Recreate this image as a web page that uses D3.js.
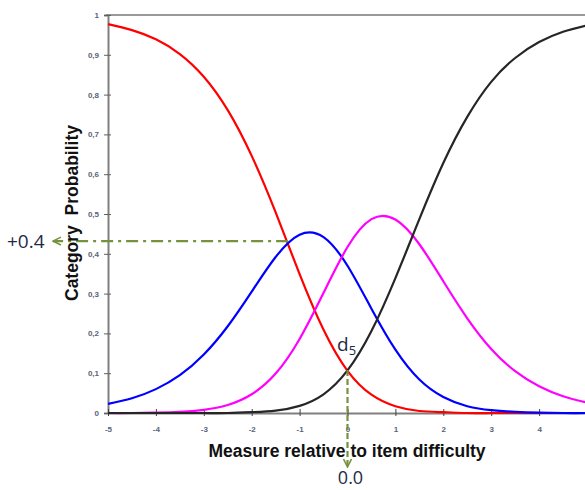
<!DOCTYPE html>
<html>
<head>
<meta charset="utf-8">
<script src="https://cdn.jsdelivr.net/npm/d3@7"></script>
<style>
  body { margin: 0; background: #fff; }
  svg { display: block; }
</style>
</head>
<body>
<div id="chart"></div>
<script>
// measure relative to item difficulty
var measures = [-5, -4.5, -4, -3.5, -3, -2.5, -2, -1.5, -1, -0.5, 0, 0.5, 1, 1.5, 2, 2.5, 3, 3.5, 4, 4.5, 5];
// category probabilities
var cat0 = [0.977, 0.962, 0.939, 0.902, 0.845, 0.761, 0.646, 0.504, 0.349, 0.209, 0.106, 0.046, 0.017, 0.005, 0.002, 0.000, 0, 0, 0, 0, 0];
var cat1 = [0.023, 0.037, 0.060, 0.095, 0.147, 0.218, 0.305, 0.392, 0.448, 0.442, 0.370, 0.262, 0.159, 0.084, 0.040, 0.017, 0.007, 0.003, 0.001, 0.000, 0.000];
var cat2 = [0.000, 0.000, 0.001, 0.003, 0.008, 0.020, 0.047, 0.099, 0.186, 0.302, 0.417, 0.487, 0.486, 0.424, 0.331, 0.238, 0.161, 0.105, 0.067, 0.042, 0.026];
var cat3 = [0, 0, 0, 0, 0, 0, 0.002, 0.006, 0.018, 0.047, 0.107, 0.206, 0.339, 0.487, 0.628, 0.744, 0.832, 0.892, 0.932, 0.958, 0.974];
var seriesColors = ['#ff0000', '#0000ff', '#ff00ff', '#262626'];
var xTicks = [-5, -4, -3, -2, -1, 0, 1, 2, 3, 4];
var yTicks = [0, 0.1, 0.2, 0.3, 0.4, 0.5, 0.6, 0.7, 0.8, 0.9, 1];
// annotation values
var markLevel = 0.432, markCross = -1.24, markZero = 0, markZeroLevel = 0.108;

var width = 585, height = 490;
var svg = d3.select('#chart').append('svg')
    .attr('width', width)
    .attr('height', height);

var x = d3.scaleLinear().domain([-5, 5]).range([108, 587]);
var y = d3.scaleLinear().domain([0, 1]).range([413, 15]);

var green = '#76923c';
var defs = svg.append('defs');
defs.append('marker')
    .attr('id', 'arrow')
    .attr('viewBox', '0 0 10 10')
    .attr('refX', 9).attr('refY', 5)
    .attr('markerWidth', 4.5).attr('markerHeight', 4.5)
    .attr('markerUnits', 'strokeWidth')
    .attr('orient', 'auto')
    .append('path')
    .attr('d', 'M1,1 L9,5 L1,9')
    .attr('fill', 'none')
    .attr('stroke', green)
    .attr('stroke-width', 1.6);

// top frame line
svg.append('line')
    .attr('x1', x(-5) - 2).attr('x2', width)
    .attr('y1', y(1)).attr('y2', y(1))
    .attr('stroke', '#999').attr('stroke-width', 2);

var tickFont = 'bold 8px "Liberation Sans", Arial, sans-serif';

// y axis
var yAxis = svg.append('g')
    .attr('transform', 'translate(' + x(-5) + ',0)')
    .call(d3.axisLeft(y).tickValues(yTicks).tickSize(4).tickPadding(5)
        .tickFormat(function(d) { return d === 0 || d === 1 ? String(d) : d3.format('.1f')(d).replace('.', ','); }));
yAxis.select('.domain').attr('stroke', '#808080').attr('stroke-width', 2);
yAxis.selectAll('.tick line').attr('stroke', '#606060').attr('x2', 3).attr('x1', -4);
yAxis.selectAll('.tick text').attr('fill', '#5a6478').style('font', tickFont);

// x axis
var xAxis = svg.append('g')
    .attr('transform', 'translate(0,' + y(0) + ')')
    .call(d3.axisBottom(x).tickValues(xTicks).tickSize(4).tickPadding(9).tickSizeOuter(0)
        .tickFormat(function(d) { return String(d); }));
xAxis.select('.domain').attr('stroke', '#808080').attr('stroke-width', 2);
xAxis.selectAll('.tick line').attr('stroke', '#404040').attr('y1', -4).attr('y2', 3);
xAxis.selectAll('.tick text').attr('fill', '#5a6478').style('font', tickFont);

// curves
var series = [cat0, cat1, cat2, cat3];
var line = d3.line()
    .x(function(d, i) { return x(measures[i]); })
    .y(function(d) { return y(d); })
    .curve(d3.curveNatural);

svg.append('g').selectAll('path')
    .data(series)
    .enter()
    .append('path')
    .attr('d', line)
    .attr('fill', 'none')
    .attr('stroke', function(d, i) { return seriesColors[i]; })
    .attr('stroke-width', 2.2);

// horizontal dash-dot annotation
svg.append('line')
    .attr('x1', x(markCross)).attr('x2', 53)
    .attr('y1', y(markLevel)).attr('y2', y(markLevel))
    .attr('stroke', green).attr('stroke-width', 2.2)
    .attr('stroke-dasharray', '12,5,3,5')
    .attr('marker-end', 'url(#arrow)');

// vertical dashed annotation
svg.append('line')
    .attr('x1', x(markZero)).attr('x2', x(markZero))
    .attr('y1', y(markZeroLevel)).attr('y2', 467)
    .attr('stroke', green).attr('stroke-width', 2.2)
    .attr('stroke-dasharray', '6,3')
    .attr('marker-end', 'url(#arrow)');

// annotation labels
var annoFont = '18px "Open Sans", "Liberation Sans", sans-serif';
svg.append('text')
    .attr('x', 7).attr('y', y(markLevel) + 7)
    .attr('fill', '#1f2a44')
    .style('font-family', '"Open Sans", "Liberation Sans", sans-serif')
    .style('font-size', '19px')
    .text('+0.4');
svg.append('text')
    .attr('x', x(markZero) + 3).attr('y', 484)
    .attr('text-anchor', 'middle')
    .attr('fill', '#1f2a44')
    .style('font', annoFont)
    .text('0.0');
var d5 = svg.append('text')
    .attr('x', 337).attr('y', 351)
    .attr('fill', '#1f2a44')
    .style('font-family', '"Open Sans", "Liberation Sans", sans-serif')
    .style('font-size', '19px');
d5.append('tspan').text('d');
d5.append('tspan').attr('dy', 4).style('font-size', '13px').text('5');

// axis titles
svg.append('text')
    .attr('x', 347).attr('y', 457)
    .attr('text-anchor', 'middle')
    .style('font', 'bold 17.5px "Liberation Sans", Arial, sans-serif')
    .attr('fill', '#111')
    .text('Measure relative to item difficulty');
svg.append('text')
    .attr('transform', 'translate(78,213) rotate(-90)')
    .attr('text-anchor', 'middle')
    .style('font', 'bold 17.5px "Liberation Sans", Arial, sans-serif')
    .style('white-space', 'pre')
    .attr('fill', '#111')
    .text('Category  Probability');
</script>
</body>
</html>
